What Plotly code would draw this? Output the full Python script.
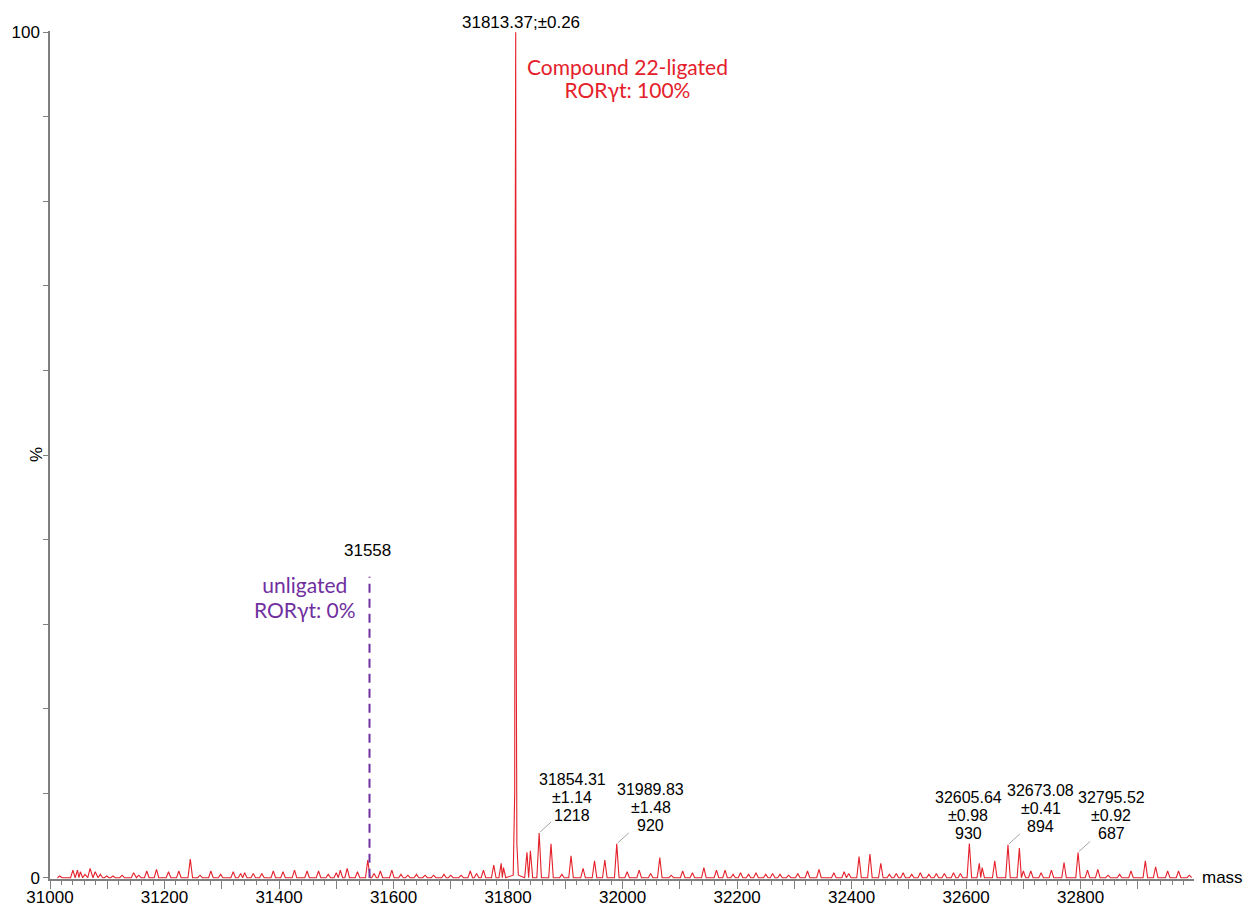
import plotly.graph_objects as go

# Deconvoluted mass spectrum: peak apex masses (Da) and intensities (% of base peak)
peak_mass = [
    31017, 31040, 31048, 31053, 31061, 31070, 31079, 31088, 31099, 31110,
    31126, 31146, 31155, 31169, 31186, 31207, 31225, 31245, 31262, 31281,
    31298, 31320, 31333, 31340, 31355, 31370, 31390, 31407, 31427, 31449,
    31469, 31486, 31500, 31507, 31519, 31537, 31555, 31566, 31577, 31597,
    31613, 31625, 31640, 31655, 31670, 31688, 31700, 31718, 31734, 31745,
    31757, 31775, 31788, 31792, 31833, 31839, 31875, 31894, 31910, 31931,
    31951, 31969, 32008, 32029, 32049, 32065, 32085, 32105, 32122, 32142,
    32164, 32179, 32193, 32206, 32220, 32233, 32250, 32262, 32275, 32290,
    32306, 32323, 32343, 32369, 32387, 32395, 32413, 32432, 32451, 32466,
    32478, 32490, 32505, 32520, 32535, 32548, 32562, 32578, 32590, 32623,
    32628, 32650, 32693, 32700, 32713, 32731, 32749, 32771, 32812, 32830,
    32848, 32868, 32888, 32913, 32931, 32952, 32971, 32990,
]
peak_pct = [
    0.2, 0.9, 0.9, 0.7, 0.4, 1.1, 0.7, 0.4, 0.2, 0.2,
    0.3, 0.6, 0.3, 0.8, 1.0, 0.7, 0.8, 2.2, 0.3, 0.8,
    0.4, 0.7, 0.5, 0.6, 0.5, 0.5, 0.8, 0.7, 0.9, 0.8,
    0.8, 0.4, 0.6, 0.9, 1.1, 0.7, 2.1, 0.5, 0.8, 0.9,
    0.4, 0.3, 0.4, 0.3, 0.3, 0.4, 0.3, 0.3, 0.8, 0.5,
    0.9, 1.5, 1.7, 1.2, 3.0, 3.2, 4.0, 0.4, 2.6, 1.1,
    2.0, 2.1, 0.7, 0.9, 0.5, 2.4, 0.3, 0.8, 0.6, 1.2,
    0.9, 0.9, 0.4, 0.6, 0.4, 0.6, 0.4, 0.5, 0.4, 0.3,
    0.5, 0.8, 1.0, 0.6, 0.7, 0.5, 2.5, 2.8, 1.7, 0.4,
    0.5, 0.6, 0.4, 0.6, 0.4, 0.5, 0.5, 0.6, 0.5, 1.7,
    1.2, 2.0, 3.5, 0.8, 0.8, 0.6, 0.9, 1.8, 0.9, 1.0,
    0.3, 0.4, 0.8, 2.0, 1.3, 0.8, 0.8, 0.3,
]

# Base peak (Compound 22 adduct) profile
main_mass = [31809.0, 31811.6, 31812.5, 31813.37, 31814.3, 31815.4, 31818.0]
main_pct = [0.3, 10.0, 74.0, 100.0, 27.0, 4.0, 0.3]
base_peak_mass = 31813.37
base_peak_err = 0.26
base_peak_counts = 23000

# Annotated minor peaks: mass, error, raw intensity
label_mass = [31854.31, 31989.83, 32605.64, 32673.08, 32795.52]
label_err = [1.14, 1.48, 0.98, 0.41, 0.92]
label_counts = [1218, 920, 930, 894, 687]

# Expected mass of unligated protein
unligated_mass = 31558
unligated_marker_pct = 35.6

# Axis ticks
x_tick_vals = [31000, 31100, 31200, 31300, 31400, 31500, 31600, 31700, 31800, 31900,
               32000, 32100, 32200, 32300, 32400, 32500, 32600, 32700, 32800, 32900]
x_tick_text = ["31000", "", "31200", "", "31400", "", "31600", "", "31800", "",
               "32000", "", "32200", "", "32400", "", "32600", "", "32800", ""]
y_tick_vals = [0, 10, 20, 30, 40, 50, 60, 70, 80, 90, 100]
y_tick_text = ["0", "", "", "", "", "", "", "", "", "", "100"]

RED = "#E4202A"
PURPLE = "#7030A0"
AXIS = "#7F7F7F"
SANS = "Liberation Sans, Arial, sans-serif"
LABEL_FONT = "Lato, Open Sans, sans-serif"

label_pct = [c / base_peak_counts * 100 for c in label_counts]

# Build the profile trace: each apex with a narrow base on both sides
HW = 4.0
apexes = sorted(list(zip(peak_mass, peak_pct)) + list(zip(label_mass, label_pct)))
pts = []
for i, (m, h) in enumerate(apexes):
    left = m - HW
    if not pts or left > pts[-1][0]:
        pts.append((left, 0.0))
    pts.append((m, h))
    nxt = apexes[i + 1][0] if i + 1 < len(apexes) else None
    if nxt is None or nxt - HW >= m + HW:
        pts.append((m + HW, 0.0))
    else:
        pts.append(((m + nxt) / 2, 0.0))
pts += list(zip(main_mass, main_pct))
pts.sort()
prof_x = [p[0] for p in pts]
prof_y = [p[1] for p in pts]

fig = go.Figure()
fig.add_trace(go.Scatter(
    x=prof_x, y=prof_y, mode="lines",
    line=dict(color=RED, width=1.1),
    hoverinfo="skip", showlegend=False, cliponaxis=False,
))
fig.add_trace(go.Scatter(
    x=[unligated_mass, unligated_mass], y=[0, unligated_marker_pct], mode="lines",
    line=dict(color=PURPLE, width=2, dash="9px,6px"),
    hoverinfo="skip", showlegend=False, cliponaxis=False,
))

annotations = []


def text_line(x, y, text, size, color, family, xshift=0, yshift=0):
    annotations.append(dict(
        x=x, y=y, xref="x", yref="y", text=text, showarrow=False,
        xanchor="center", yanchor="middle", xshift=xshift, yshift=yshift,
        align="center", font=dict(family=family, size=size, color=color),
    ))


def two_lines(a, b, glyph_px):
    # larger glyphs inside a tighter base line spacing
    return (f'<span style="font-size:{glyph_px}px">{a}</span><br>'
            f'<span style="font-size:{glyph_px}px">{b}</span>')


# base peak label
text_line(base_peak_mass, 100, f"{base_peak_mass:.2f};±{base_peak_err:.2f}",
          17, "black", SANS, xshift=5, yshift=10)
text_line(32008, 94.6, two_lines("Compound 22-ligated", "RORγt: 100%", 21),
          18, RED, LABEL_FONT)

# unligated marker labels
text_line(unligated_mass, unligated_marker_pct, str(unligated_mass),
          17, "black", SANS, xshift=-2, yshift=26)
text_line(31445, 33.2, two_lines("unligated", "RORγt: 0%", 21),
          19, PURPLE, LABEL_FONT)

# minor peak labels (three lines each) and leader lines
label_xshift = [33, 34, -1, 33, 33]
label_yshift = [35, 36, 28, 36, 37]
leader = [True, True, False, True, True]
LINE_GAP = 18
shapes = []
for m, e, c, h, dx, dy, ld in zip(label_mass, label_err, label_counts, label_pct,
                                   label_xshift, label_yshift, leader):
    for k, txt in enumerate([f"{m:.2f}", f"±{e:.2f}", f"{c}"]):
        text_line(m, h, txt, 16, "black", SANS, xshift=dx,
                  yshift=dy + (1 - k) * LINE_GAP)
    if ld:
        shapes.append(dict(
            type="line", xref="x", yref="y",
            xsizemode="pixel", ysizemode="pixel",
            xanchor=m, yanchor=h, x0=1, x1=12, y0=1, y1=11,
            line=dict(color="#8C8C8C", width=0.8),
        ))

annotations.append(dict(
    x=1, y=0, xref="paper", yref="y", text="mass", showarrow=False,
    xanchor="left", yanchor="middle", xshift=6,
    font=dict(family=SANS, size=17, color="black"),
))
annotations.append(dict(
    x=0, y=50, xref="paper", yref="y", text="%", showarrow=False,
    textangle=-90, xanchor="center", yanchor="middle", xshift=-14,
    font=dict(family=SANS, size=17, color="black"),
))

fig.update_layout(
    width=1246, height=907,
    margin=dict(l=50, r=52, t=31, b=28, pad=0, autoexpand=False),
    paper_bgcolor="white", plot_bgcolor="white",
    annotations=annotations, shapes=shapes,
    xaxis=dict(
        range=[31000, 32998], showgrid=False, zeroline=False, automargin=False,
        showline=True, linecolor=AXIS, linewidth=1.5,
        tickmode="array", tickvals=x_tick_vals, ticktext=x_tick_text,
        ticks="outside", ticklen=8, tickwidth=1.3, tickcolor=AXIS,
        ticklabelstandoff=-6,
        tickfont=dict(family=SANS, size=17, color="black"),
        minor=dict(tickmode="linear", tick0=31000, dtick=20, ticks="outside",
                   ticklen=4, tickwidth=1, tickcolor=AXIS, showgrid=False),
        layer="below traces",
    ),
    yaxis=dict(
        range=[-0.15, 100.15], showgrid=False, zeroline=False, automargin=False,
        showline=True, linecolor=AXIS, linewidth=1.5,
        tickmode="array", tickvals=y_tick_vals, ticktext=y_tick_text,
        ticks="outside", ticklen=5, tickwidth=1.3, tickcolor=AXIS,
        tickfont=dict(family=SANS, size=17, color="black"),
        layer="below traces",
    ),
)

fig.write_html("out.html")
